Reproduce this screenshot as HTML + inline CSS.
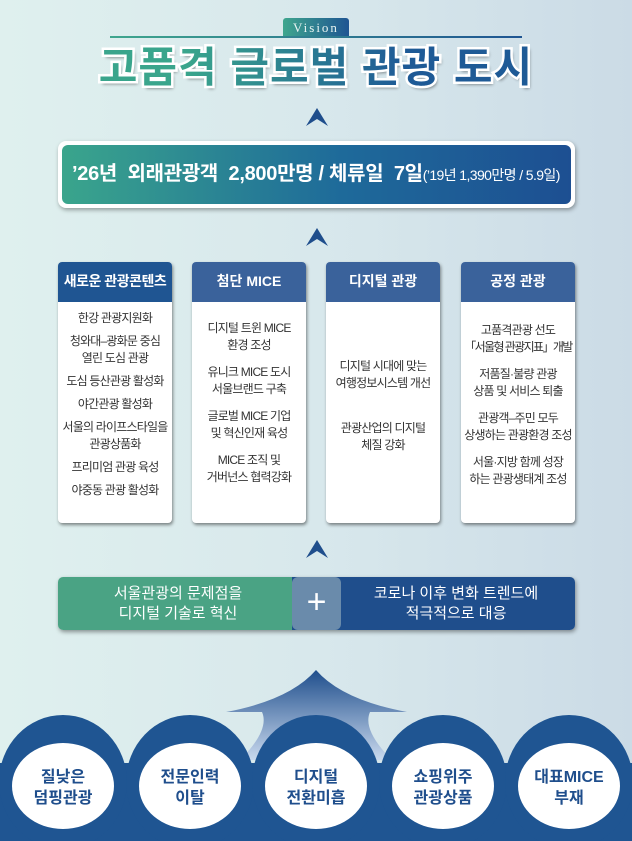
<!DOCTYPE html>
<html><head><meta charset="utf-8"><style>
body{margin:0;width:632px;height:841px;overflow:hidden;position:relative;font-family:"Liberation Sans","Noto Sans CJK KR",sans-serif;background:linear-gradient(90deg,#dff0ee 0%,#d8e8ec 50%,#cbdbe6 100%);}
.abs{position:absolute}
.chev{position:absolute;width:22px;height:18px}
.col{position:absolute;top:262px;width:114px;height:261px;background:#fff;border-radius:4px;box-shadow:1px 2px 3px rgba(0,0,0,.45);overflow:hidden}
.col .h{height:40px;background:#3a629b;color:#fff;font-size:14px;font-weight:bold;text-align:center;line-height:38px;white-space:nowrap}
.col .b{font-size:12px;color:#333;text-align:center;line-height:17px;letter-spacing:-0.8px;white-space:nowrap}
.col .b p{margin:0}
.t{position:absolute;left:0;top:38px;width:632px;text-align:center;font-size:42px;font-weight:bold;letter-spacing:1px;line-height:60px;white-space:nowrap}
</style></head><body>
<div class="abs" style="left:283px;top:18px;width:66px;height:18px;background:linear-gradient(90deg,#3fa68e,#1f5592);border-radius:3px 3px 0 0;color:#e8f4f2;font-family:'Liberation Serif',serif;font-size:13px;letter-spacing:2px;text-align:center;line-height:19px">Vision</div>
<div class="abs" style="left:110px;top:36px;width:412px;height:2px;background:linear-gradient(90deg,#3fa68e,#1f5592)"></div>
<div class="t" style="color:#fff;-webkit-text-stroke:5px #fff;text-shadow:2px 3px 3px rgba(0,0,0,.45)">고품격 글로벌 관광 도시</div>
<div class="t"><span style="background:linear-gradient(90deg,#3aa58c 20%,#1e5a96 70%);-webkit-background-clip:text;background-clip:text;color:transparent">고품격 글로벌 관광 도시</span></div>
<svg class="chev" style="left:306px;top:108px" viewBox="0 0 22 18"><path d="M11 0L22 18L11 11L0 18Z" fill="#1f4e8c"/></svg>
<div class="abs" style="left:58px;top:141px;width:517px;height:67px;background:#fff;border-radius:8px;box-shadow:1px 2px 4px rgba(0,0,0,.35)"></div>
<div class="abs" style="left:62px;top:145px;width:509px;height:59px;background:linear-gradient(90deg,#3aa58c,#1e6a9a 55%,#1d4f92);border-radius:6px;color:#fff;font-weight:bold;line-height:59px;white-space:nowrap;font-size:20px;letter-spacing:-0.3px;padding-left:10px;box-sizing:border-box">’26년&nbsp; 외래관광객&nbsp; 2,800만명 / 체류일&nbsp; 7일<span style="font-size:14px;font-weight:normal;letter-spacing:-0.6px">(’19년 1,390만명 / 5.9일)</span></div>
<svg class="chev" style="left:306px;top:228px" viewBox="0 0 22 18"><path d="M11 0L22 18L11 11L0 18Z" fill="#1f4e8c"/></svg>
<div class="col" style="left:58px"><div class="h" style="background:#1f5592;letter-spacing:-0.5px">새로운 관광콘텐츠</div><div class="b" style="padding-top:8px">
<p style="margin-bottom:6px">한강 관광지원화</p><p style="margin-bottom:6px">청와대–광화문 중심<br>열린 도심 관광</p><p style="margin-bottom:6px">도심 등산관광 활성화</p><p style="margin-bottom:6px">야간관광 활성화</p><p style="margin-bottom:6px">서울의 라이프스타일을<br>관광상품화</p><p style="margin-bottom:6px">프리미엄 관광 육성</p><p>야중동 관광 활성화</p></div></div>
<div class="col" style="left:192px"><div class="h">첨단 MICE</div><div class="b" style="padding-top:18px">
<p style="margin-bottom:10px">디지털 트윈 MICE<br>환경 조성</p><p style="margin-bottom:10px">유니크 MICE 도시<br>서울브랜드 구축</p><p style="margin-bottom:10px">글로벌 MICE 기업<br>및 혁신인재 육성</p><p>MICE 조직 및<br>거버넌스 협력강화</p></div></div>
<div class="col" style="left:326px"><div class="h">디지털 관광</div><div class="b" style="padding-top:56px">
<p style="margin-bottom:28px">디지털 시대에 맞는<br>여행정보시스템 개선</p><p>관광산업의 디지털<br>체질 강화</p></div></div>
<div class="col" style="left:461px"><div class="h">공정 관광</div><div class="b" style="padding-top:20px">
<p style="margin-bottom:10px">고품격관광 선도<br><span style="letter-spacing:-1.6px">「서울형 관광지표」개발</span></p><p style="margin-bottom:10px">저품질·불량 관광<br>상품 및 서비스 퇴출</p><p style="margin-bottom:10px">관광객–주민 모두<br>상생하는 관광환경 조성</p><p>서울·지방 함께 성장<br>하는 관광생태계 조성</p></div></div>
<svg class="chev" style="left:306px;top:540px" viewBox="0 0 22 18"><path d="M11 0L22 18L11 11L0 18Z" fill="#1f4e8c"/></svg>
<div class="abs" style="left:58px;top:577px;width:517px;height:53px;border-radius:5px;overflow:hidden;box-shadow:1px 2px 4px rgba(0,0,0,.4)">
<div class="abs" style="left:0;top:0;width:240px;height:53px;background:#4aa384;color:#fff;font-size:15px;text-align:center;line-height:20px;padding-top:7px;box-sizing:border-box">서울관광의 문제점을<br>디지털 기술로 혁신</div>
<div class="abs" style="left:234px;top:0;width:283px;height:53px;background:#1f4e8c;color:#fff;font-size:15px;text-align:center;line-height:20px;padding:7px 0 0 45px;box-sizing:border-box">코로나 이후 변화 트렌드에<br>적극적으로 대응</div>
<div class="abs" style="left:234px;top:0;width:49px;height:53px;background:#6a8bab;border-radius:6px;color:#fff;font-size:34px;text-align:center;line-height:50px">+</div></div>
<svg class="abs" style="left:0;top:660px" width="632" height="181" viewBox="0 660 632 181">
<defs><linearGradient id="ag" x1="0" y1="0" x2="0" y2="1"><stop offset="0" stop-color="#1f4e8c"/><stop offset="1" stop-color="#c9d9ee"/></linearGradient></defs>
<path d="M316 670 Q290 700 226 712 L262 712 Q270 730 240 760 L392 760 Q362 730 370 712 L407 712 Q342 700 316 670Z" fill="url(#ag)"/>
<g fill="#1f5592">
<rect x="0" y="763" width="632" height="78"/>
<ellipse cx="63" cy="782" rx="64" ry="67"/><ellipse cx="190" cy="782" rx="64" ry="67"/><ellipse cx="316" cy="782" rx="64" ry="67"/><ellipse cx="443" cy="782" rx="64" ry="67"/><ellipse cx="569" cy="782" rx="64" ry="67"/></g>
<g fill="#fff"><ellipse cx="63" cy="786" rx="51" ry="43"/><ellipse cx="190" cy="786" rx="51" ry="43"/><ellipse cx="316" cy="786" rx="51" ry="43"/><ellipse cx="443" cy="786" rx="51" ry="43"/><ellipse cx="569" cy="786" rx="51" ry="43"/></g>
<g fill="#1f4e8c" font-size="16" font-weight="bold" text-anchor="middle" font-family="Liberation Sans,Noto Sans CJK KR,sans-serif">
<text x="63" y="782">질낮은</text><text x="63" y="803">덤핑관광</text>
<text x="190" y="782">전문인력</text><text x="190" y="803">이탈</text>
<text x="316" y="782">디지털</text><text x="316" y="803">전환미흡</text>
<text x="443" y="782">쇼핑위주</text><text x="443" y="803">관광상품</text>
<text x="569" y="782">대표MICE</text><text x="569" y="803">부재</text></g>
</svg>
</body></html>
